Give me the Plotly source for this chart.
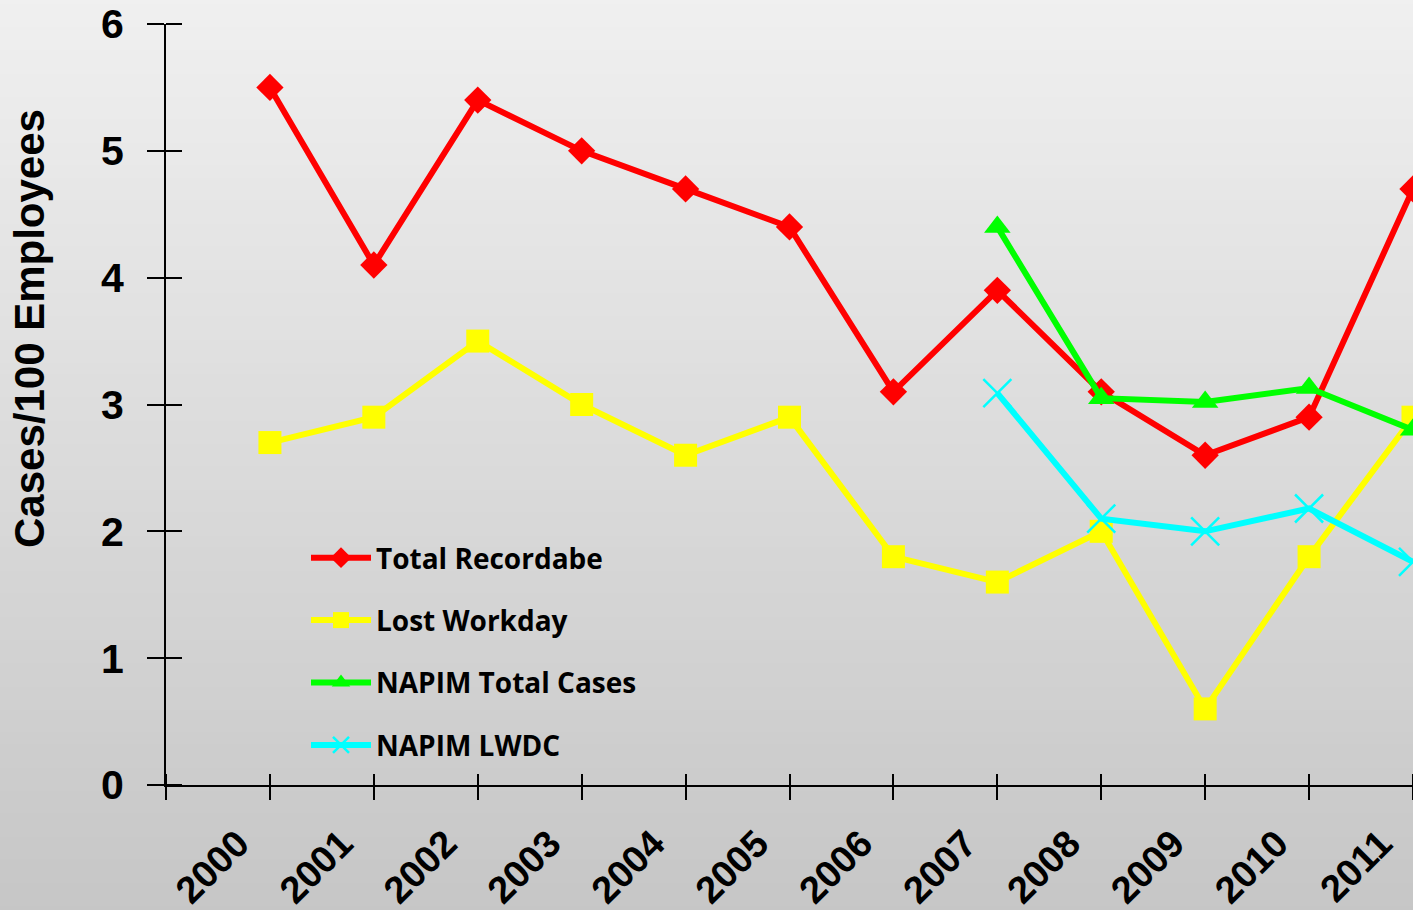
import plotly.graph_objects as go

years = [2000, 2001, 2002, 2003, 2004, 2005, 2006, 2007, 2008, 2009, 2010, 2011]
total_recordable = [5.5, 4.1, 5.4, 5.0, 4.7, 4.4, 3.1, 3.9, 3.1, 2.6, 2.9, 4.7]
lost_workday = [2.7, 2.9, 3.5, 3.0, 2.6, 2.9, 1.8, 1.6, 2.0, 0.6, 1.8, 2.9]
napim_years = [2007, 2008, 2009, 2010, 2011]
napim_total = [4.4, 3.05, 3.02, 3.13, 2.8]
napim_lwdc = [3.09, 2.1, 2.0, 2.18, 1.76]
y_ticks = [0, 1, 2, 3, 4, 5, 6]
x_tick_labels = [str(y) for y in years]

W, H = 1413, 910
ML, MR, MT, MB = 166, 0, 24, 125
EPS = 1e-6

fig = go.Figure()

fig.add_trace(go.Scatter(x=years, y=total_recordable, name="Total Recordabe", mode="lines+markers",
                         line=dict(color="#ff0000", width=6),
                         marker=dict(symbol="diamond", size=21, color="#ff0000"),
                         legendgroup="a", cliponaxis=False))
fig.add_trace(go.Scatter(x=years, y=lost_workday, name="Lost Workday", mode="lines+markers",
                         line=dict(color="#ffff00", width=6),
                         marker=dict(symbol="square", size=23, color="#ffff00"),
                         legendgroup="b", cliponaxis=False))
fig.add_trace(go.Scatter(x=napim_years, y=napim_total, name="NAPIM Total Cases", mode="lines+markers",
                         line=dict(color="#00ff00", width=6),
                         marker=dict(symbol="triangle-up", size=23, color="#00ff00"),
                         legendgroup="c", cliponaxis=False))
fig.add_trace(go.Scatter(x=napim_years, y=napim_lwdc, name="NAPIM LWDC", mode="lines+markers",
                         line=dict(color="#00ffff", width=6),
                         marker=dict(symbol="x-thin", size=28, color="#00ffff",
                                     line=dict(color="#00ffff", width=2.5)),
                         legendgroup="d", cliponaxis=False))

# background gradient
shapes = []
n = 80
top = (0xf0, 0xf0, 0xf0)
bot = (0xc6, 0xc6, 0xc6)
pw = W - ML - MR
ph = H - MT - MB
x0p = -ML / pw - 0.01
x1p = 1 + MR / pw + 0.01
y_bot = -MB / ph - 0.01
y_top = 1 + MT / ph + 0.01
for i in range(n):
    t = i / (n - 1)
    c = tuple(int(round(top[k] + (bot[k] - top[k]) * t)) for k in range(3))
    ya = y_top - (y_top - y_bot) * i / n
    yb = y_top - (y_top - y_bot) * (i + 1) / n
    shapes.append(dict(type="rect", xref="paper", yref="paper", x0=x0p, x1=x1p, y0=yb - 0.002, y1=ya,
                       fillcolor="rgb(%d,%d,%d)" % c, line=dict(width=0), layer="below"))

x_tickvals = [1999] + years

fig.update_layout(
    width=W, height=H,
    margin=dict(l=ML, r=MR, t=MT, b=MB, pad=0),
    paper_bgcolor="#dcdcdc",
    plot_bgcolor="rgba(0,0,0,0)",
    shapes=shapes,
    showlegend=True,
    legend=dict(x=(306 - ML) / pw, y=(785 - 533) / ph, xanchor="left", yanchor="top",
                bgcolor="rgba(0,0,0,0)", itemwidth=60, tracegroupgap=23,
                font=dict(family="Open Sans", size=28, color="black", weight="bold")),
    xaxis=dict(range=[1999 - 0.0001, 2011.0001], tickmode="array", tickvals=x_tickvals,
               ticktext=[""] + x_tick_labels, tickangle=-45, ticklabeloverflow="allow",
               ticklabelshift=-32, ticklabelstandoff=6,
               showgrid=False, zeroline=False, showline=True, linecolor="black", linewidth=2,
               ticks="outside", ticklen=13, tickwidth=2, tickcolor="black",
               minor=dict(tickmode="array", tickvals=[v + EPS for v in x_tickvals],
                          ticks="inside", ticklen=11, tickwidth=2, tickcolor="black", showgrid=False),
               tickfont=dict(family="Liberation Sans", size=38, color="black", weight="bold")),
    yaxis=dict(range=[-0.00001, 6.00001], tickmode="array", tickvals=y_ticks,
               ticktext=[str(v) for v in y_ticks],
               showgrid=False, zeroline=False, showline=True, linecolor="black", linewidth=2,
               ticks="outside", ticklen=17, tickwidth=2, tickcolor="black", ticklabelstandoff=15,
               minor=dict(tickmode="array", tickvals=[v + EPS for v in y_ticks],
                          ticks="inside", ticklen=16, tickwidth=2, tickcolor="black", showgrid=False),
               tickfont=dict(family="Liberation Sans", size=41, color="black", weight="bold")),
    annotations=[dict(text="Cases/100 Employees", xref="paper", yref="paper",
                      x=(29 - ML) / pw, y=(785 - 329) / ph, xanchor="center", yanchor="middle",
                      textangle=-90, showarrow=False,
                      font=dict(family="Liberation Sans", size=42, color="black", weight="bold"))],
)

fig.write_html("out.html", config={"displayModeBar": False},
               post_script="document.body.style.margin='0px';document.body.style.overflow='hidden';")
